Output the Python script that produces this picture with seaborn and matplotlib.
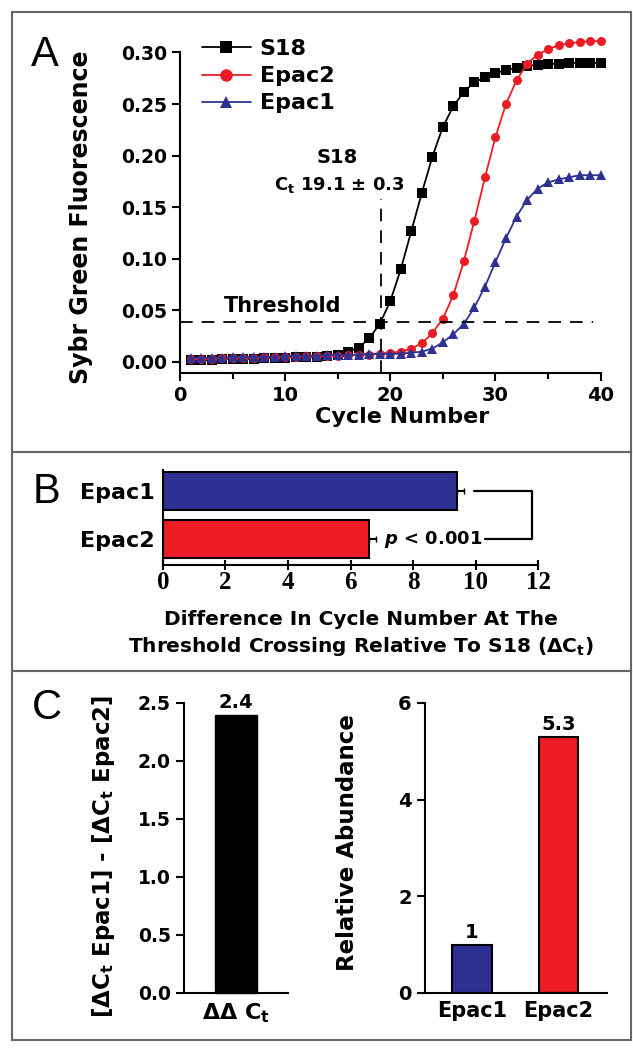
import numpy as np
import pandas as pd
import matplotlib
matplotlib.use("Agg")
import matplotlib.pyplot as plt
import seaborn as sns
from matplotlib.patches import Rectangle

# ---- data ----
cycles = list(range(1, 41))
s18 = [0.002, 0.002, 0.002, 0.003, 0.003, 0.003, 0.003, 0.004, 0.004, 0.004,
       0.005, 0.005, 0.005, 0.006, 0.007, 0.010, 0.014, 0.023, 0.037, 0.059,
       0.090, 0.127, 0.164, 0.199, 0.228, 0.248, 0.262, 0.271, 0.276, 0.280,
       0.283, 0.285, 0.287, 0.288, 0.289, 0.289, 0.290, 0.290, 0.290, 0.290]
epac2 = [0.003, 0.003, 0.003, 0.004, 0.004, 0.004, 0.004, 0.005, 0.005, 0.005,
         0.005, 0.006, 0.006, 0.006, 0.006, 0.007, 0.007, 0.007, 0.008, 0.009,
         0.010, 0.013, 0.018, 0.028, 0.042, 0.065, 0.098, 0.137, 0.179, 0.218,
         0.250, 0.273, 0.289, 0.298, 0.303, 0.307, 0.309, 0.310, 0.311, 0.311]
epac1 = [0.004, 0.004, 0.004, 0.004, 0.005, 0.005, 0.005, 0.005, 0.005, 0.006,
         0.006, 0.006, 0.006, 0.007, 0.007, 0.007, 0.007, 0.008, 0.008, 0.008,
         0.008, 0.009, 0.010, 0.013, 0.019, 0.027, 0.037, 0.053, 0.073, 0.097,
         0.120, 0.141, 0.157, 0.168, 0.174, 0.177, 0.179, 0.181, 0.181, 0.181]
threshold = 0.039
s18_ct = 19.1

genes_b = ["Epac1", "Epac2"]
delta_ct = [9.4, 6.6]
delta_ct_err = [0.24, 0.2]

ddct_label = [r"$\mathregular{\Delta\Delta}$ C$_t$"]
ddct = [2.4]

abund_genes = ["Epac1", "Epac2"]
abundance = [1, 5.3]
abund_labels = ["1", "5.3"]

BLUE = "#2e3192"
RED = "#ed1c24"

sns.set_style("ticks")
plt.rcParams["font.family"] = ["DejaVu Sans"]
plt.rcParams["font.weight"] = "bold"
plt.rcParams["axes.labelweight"] = "bold"
for k in ["text.color", "axes.labelcolor", "xtick.color", "ytick.color",
          "axes.edgecolor"]:
    plt.rcParams[k] = "black"
plt.rcParams["mathtext.fontset"] = "custom"
plt.rcParams["mathtext.rm"] = "DejaVu Sans"
plt.rcParams["mathtext.bf"] = "DejaVu Sans:bold"
plt.rcParams["mathtext.it"] = "DejaVu Sans:bold:italic"
plt.rcParams["mathtext.default"] = "bf"
plt.rcParams["axes.linewidth"] = 1.5
plt.rcParams["xtick.major.width"] = 1.5
plt.rcParams["ytick.major.width"] = 1.5

fig = plt.figure(figsize=(6.33, 10.5), dpi=100)
W, H = 633.0, 1050.0

def box(x0, y0, x1, y1):
    return [x0 / W, 1 - y1 / H, (x1 - x0) / W, (y1 - y0) / H]

# panel frames
for (y0, y1) in [(12, 452), (452, 671), (671, 1040)]:
    fig.add_artist(Rectangle((12 / W, 1 - y1 / H), 619 / W, (y1 - y0) / H,
                             transform=fig.transFigure, fill=False,
                             ec="#666666", lw=1.5))

# ---------------- A ----------------
ax = fig.add_axes(box(180, 37, 608, 373))
df_a = pd.DataFrame({"cycle": cycles * 3,
                     "value": s18 + epac2 + epac1,
                     "gene": ["S18"] * 40 + ["Epac2"] * 40 + ["Epac1"] * 40})
sns.lineplot(data=df_a, x="cycle", y="value", hue="gene", style="gene",
             hue_order=["S18", "Epac2", "Epac1"],
             palette={"S18": "black", "Epac2": RED, "Epac1": BLUE},
             markers={"S18": "s", "Epac2": "o", "Epac1": "^"},
             dashes=False, markersize=6.5, markeredgewidth=0, lw=1.3, ax=ax)
ax.plot([0, 39.3], [threshold, threshold], color="black", lw=1.3, dashes=(7, 5))
ax.plot([s18_ct, s18_ct], [-0.011, 0.158], color="black", lw=1.3, dashes=(7, 5),
        clip_on=False)
ax.text(15, 0.198, "S18", ha="center", va="center", fontsize=14)
ax.text(15.2, 0.172, r"C$_t$ 19.1 ± 0.3", ha="center", va="center", fontsize=13)
ax.text(9.8, 0.054, "Threshold", ha="center", va="center", fontsize=15)
ax.set_xlim(0, 40.7)
ax.set_ylim(-0.0107, 0.315)
ax.spines["left"].set_bounds(-0.0107, 0.30)
ax.spines["bottom"].set_bounds(0, 40)
sns.despine(ax=ax)
ax.set_xticks([0, 10, 20, 30, 40])
ax.set_xticks([5, 15, 25, 35], minor=True)
ax.set_yticks([0, 0.05, 0.10, 0.15, 0.20, 0.25, 0.30])
ax.set_yticklabels([f"{v:.2f}" for v in [0, 0.05, 0.10, 0.15, 0.20, 0.25, 0.30]])
ax.tick_params(axis="y", labelsize=13.5, length=6)
ax.tick_params(axis="x", labelsize=14, length=6)
ax.tick_params(which="minor", length=4, width=1.5)
ax.set_xlabel("Cycle Number", fontsize=16)
ax.set_ylabel("Sybr Green Fluorescence", fontsize=17)
ax.xaxis.set_label_coords(0.519, -0.10)
ax.yaxis.set_label_coords(-0.204, 0.464)
leg = ax.legend(loc="upper left", bbox_to_anchor=(0.03, 1.02), frameon=False,
                fontsize=16, handlelength=2.2, labelspacing=0.32,
                handletextpad=0.4, borderaxespad=0)
for h in leg.legend_handles:
    h.set_markersize(9)

# ---------------- B ----------------
axb = fig.add_axes(box(163, 470, 538, 565))
sns.barplot(x=delta_ct, y=genes_b, orient="h", hue=genes_b,
            palette=[BLUE, RED], saturation=1, edgecolor="black", linewidth=1.5,
            width=0.78, legend=False, ax=axb)
axb.errorbar(delta_ct, [0, 1], xerr=[[0, 0], delta_ct_err], fmt="none",
             ecolor="black", elinewidth=1.5, capsize=2.5)
axb.plot([9.95, 11.8, 11.8, 10.3], [0, 0, 1, 1], color="black", lw=1.6,
         clip_on=False)
axb.text(8.65, 1, r"$\mathit{p}$ < 0.001", ha="center", va="center", fontsize=13)
axb.set_xlim(0, 12)
axb.set_ylim(1.53, -0.43)
sns.despine(ax=axb)
axb.set_xticks(range(0, 13, 2))
axb.tick_params(axis="x", direction="inout", length=7, labelsize=18, pad=1)
for t in axb.get_xticklabels():
    t.set_fontfamily("Liberation Serif")
    t.set_fontweight("bold")
axb.tick_params(axis="y", length=0, labelsize=16, pad=6)
axb.set_ylabel("")
fig.text(361 / W, 1 - 634 / H,
         "Difference In Cycle Number At The\n"
         r"Threshold Crossing Relative To S18 ($\mathregular{\Delta}$C$_t$)",
         ha="center", va="center", fontsize=14.5, linespacing=1.35)

# ---------------- C left ----------------
axc = fig.add_axes(box(184, 703, 288, 993))
sns.barplot(x=ddct_label, y=ddct, color="black", saturation=1,
            edgecolor="black", width=0.47, ax=axc)
axc.bar_label(axc.containers[0], labels=["2.4"], padding=2, fontsize=14)
axc.set_ylim(0, 2.5)
axc.set_xlim(-0.58, 0.58)
axc.set_yticks([0, 0.5, 1.0, 1.5, 2.0, 2.5])
axc.set_yticklabels(["0.0", "0.5", "1.0", "1.5", "2.0", "2.5"])
sns.despine(ax=axc)
axc.tick_params(axis="y", labelsize=13.5, length=6)
axc.tick_params(axis="x", length=0, labelsize=16, pad=6)
axc.set_ylabel(r"[$\mathregular{\Delta}$C$_t$ Epac1] - [$\mathregular{\Delta}$C$_t$ Epac2]",
               fontsize=16.5)
axc.yaxis.set_label_coords(-0.64, 0.47)
for t in axc.patches:
    t.set_clip_on(False)

# ---------------- C right ----------------
axr = fig.add_axes(box(425, 703, 607, 993))
sns.barplot(x=abund_genes, y=abundance, hue=abund_genes, palette=[BLUE, RED],
            saturation=1, edgecolor="black", linewidth=1.5, width=0.46,
            legend=False, ax=axr)
for cont, lab in zip(axr.containers, abund_labels):
    axr.bar_label(cont, labels=[lab], padding=2, fontsize=14)
axr.set_ylim(0, 6)
axr.set_xlim(-0.54, 1.56)
axr.set_yticks([0, 2, 4, 6])
sns.despine(ax=axr)
axr.tick_params(axis="y", labelsize=14, length=6)
axr.tick_params(axis="x", length=0, labelsize=15, pad=6)
axr.set_ylabel("Relative Abundance", fontsize=16.5)
axr.yaxis.set_label_coords(-0.363, 0.52)

# panel letters
for letter, (x, y) in {"A": (45, 55), "B": (47, 492), "C": (47, 708)}.items():
    fig.text(x / W, 1 - y / H, letter, fontsize=30, fontweight="normal",
             fontfamily="Liberation Sans", ha="center", va="center")

fig.savefig("out.png", dpi=100)
